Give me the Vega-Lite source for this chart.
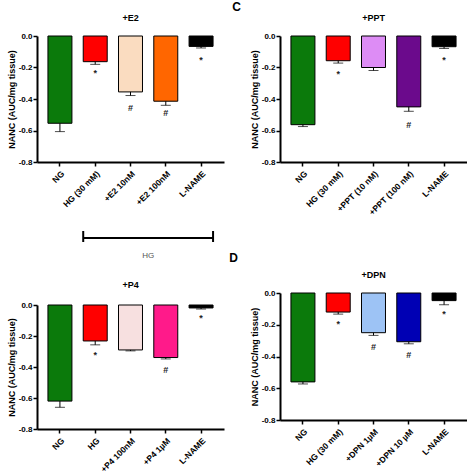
{
  "$schema": "https://vega.github.io/schema/vega-lite/v6.json",
  "padding": {"left": 7, "top": 1, "right": 0, "bottom": 0},
  "background": "white",
  "config": {
    "view": {"stroke": null},
    "font": "Liberation Sans",
    "axis": {"domainColor": "black", "tickColor": "black", "labelColor": "black", "titleColor": "black", "grid": false},
    "axisY": {"labelOverlap": false, "labelFontSize": 8, "labelFontWeight": "bold", "titleFontSize": 9, "titleFontWeight": "bold", "titlePadding": 2, "labelPadding": 1, "domainWidth": 2, "tickSize": 4, "tickWidth": 1.5},
    "axisX": {"labelOverlap": false, "labelAngle": -45, "labelFontSize": 8.5, "labelFontWeight": "bold", "domainWidth": 2, "tickSize": 4, "tickWidth": 1.5, "labelPadding": 3},
    "title": {"font": "Liberation Sans", "fontWeight": "bold", "fontSize": 9, "color": "black", "offset": 9}
  },
  "datasets": {
    "A": [
      {"cond": "NG", "mean": -0.554, "err": -0.607, "sig": "", "sig_y": null},
      {"cond": "HG (30 mM)", "mean": -0.163, "err": -0.18, "sig": "*", "sig_y": -0.235},
      {"cond": "+E2 10nM", "mean": -0.355, "err": -0.378, "sig": "#", "sig_y": -0.46},
      {"cond": "+E2 100nM", "mean": -0.414, "err": -0.44, "sig": "#", "sig_y": -0.49},
      {"cond": "L-NAME", "mean": -0.066, "err": -0.076, "sig": "*", "sig_y": -0.15}
    ],
    "C": [
      {"cond": "NG", "mean": -0.563, "err": -0.575, "sig": "", "sig_y": null},
      {"cond": "HG (30 mM)", "mean": -0.157, "err": -0.172, "sig": "*", "sig_y": -0.24},
      {"cond": "+PPT (10 nM)", "mean": -0.2, "err": -0.219, "sig": "", "sig_y": null},
      {"cond": "+PPT (100 nM)", "mean": -0.45, "err": -0.478, "sig": "#", "sig_y": -0.563},
      {"cond": "L-NAME", "mean": -0.068, "err": -0.079, "sig": "*", "sig_y": -0.155}
    ],
    "B": [
      {"cond": "NG", "mean": -0.62, "err": -0.66, "sig": "", "sig_y": null},
      {"cond": "HG", "mean": -0.232, "err": -0.257, "sig": "*", "sig_y": -0.32},
      {"cond": "+P4 100nM", "mean": -0.29, "err": -0.296, "sig": "", "sig_y": null},
      {"cond": "+P4 1µM", "mean": -0.339, "err": -0.348, "sig": "#", "sig_y": -0.42},
      {"cond": "L-NAME", "mean": -0.019, "err": -0.026, "sig": "*", "sig_y": -0.085}
    ],
    "D": [
      {"cond": "NG", "mean": -0.56, "err": -0.573, "sig": "", "sig_y": null},
      {"cond": "HG (30 mM)", "mean": -0.12, "err": -0.133, "sig": "*", "sig_y": -0.195},
      {"cond": "+DPN 1µM", "mean": -0.25, "err": -0.267, "sig": "#", "sig_y": -0.343},
      {"cond": "+DPN 10 µM", "mean": -0.307, "err": -0.32, "sig": "#", "sig_y": -0.39},
      {"cond": "L-NAME", "mean": -0.048, "err": -0.074, "sig": "*", "sig_y": -0.13}
    ],
    "bracket": [
      {"start": 0.66, "end": 4.34, "mid": 2.5, "label": "HG", "line_y": 0.733, "cap_low": 0.6, "cap_high": 0.967, "text_y": 0.13}
    ]
  },
  "resolve": {"scale": {"x": "independent", "y": "independent"}},
  "spacing": 5,
  "hconcat": [
    {
      "spacing": 20,
      "title": {"text": " ", "fontSize": 12, "offset": 0},
      "vconcat": [
        {
          "width": 187, "height": 126,
          "title": {"text": "+E2"},
          "data": {"name": "A"},
          "encoding": {"x": {"field": "cond", "type": "nominal", "sort": null, "scale": {"paddingInner": 0.32, "paddingOuter": 0.31}, "axis": {"title": null, "labelOverlap": false}}},
          "layer": [
            {"mark": {"type": "bar", "stroke": "black", "strokeWidth": 1},
             "encoding": {
               "y": {"field": "mean", "type": "quantitative", "scale": {"domain": [-0.8, 0]},
                 "axis": {"title": "NANC (AUC/mg tissue)", "tickCount": 4, "labelOverlap": false, "labelExpr": "replace(format(datum.value, '.1f'), '−', '-')"}},
               "color": {"field": "cond", "type": "nominal", "legend": null,
                 "scale": {"domain": ["NG", "HG (30 mM)", "HG", "+E2 10nM", "+E2 100nM", "+PPT (10 nM)", "+PPT (100 nM)", "+P4 100nM", "+P4 1µM", "+DPN 1µM", "+DPN 10 µM", "L-NAME"],
                   "range": ["#0b7a0b", "#ff0000", "#ff0000", "#fadcc0", "#ff6600", "#dd8cf5", "#6b0a8c", "#f7e0e0", "#ff1a8a", "#9dc3f5", "#0000b4", "#000000"]}}}},
            {"mark": {"type": "rule", "strokeWidth": 1, "color": "black"}, "encoding": {"y": {"field": "mean", "type": "quantitative"}, "y2": {"field": "err"}}},
            {"mark": {"type": "tick", "thickness": 1, "size": 10, "color": "black"}, "encoding": {"y": {"field": "err", "type": "quantitative"}}},
            {"transform": [{"filter": "datum.sig != ''"}], "mark": {"type": "text", "fontSize": 9, "fontWeight": "bold", "color": "#222"}, "encoding": {"y": {"field": "sig_y", "type": "quantitative"}, "text": {"field": "sig"}}},
            {"mark": {"type": "rule", "strokeWidth": 1.5, "color": "black"}, "encoding": {"y": {"datum": 0}}}
          ]
        },
        {
          "width": 187, "height": 30,
          "data": {"name": "bracket"},
          "encoding": {},
          "layer": [
            {"mark": {"type": "rule", "strokeWidth": 2, "color": "black"},
             "encoding": {"x": {"field": "start", "type": "quantitative", "scale": {"domain": [-0.65, 4.65], "nice": false, "zero": false}, "axis": null},
               "x2": {"field": "end"}, "y": {"field": "line_y", "type": "quantitative", "scale": {"domain": [0, 1]}, "axis": null}}},
            {"mark": {"type": "rule", "strokeWidth": 2, "color": "black"},
             "encoding": {"x": {"field": "start", "type": "quantitative"}, "y": {"field": "cap_low", "type": "quantitative"}, "y2": {"field": "cap_high"}}},
            {"mark": {"type": "rule", "strokeWidth": 2, "color": "black"},
             "encoding": {"x": {"field": "end", "type": "quantitative"}, "y": {"field": "cap_low", "type": "quantitative"}, "y2": {"field": "cap_high"}}},
            {"mark": {"type": "text", "fontSize": 8, "color": "#555555"},
             "encoding": {"x": {"field": "mid", "type": "quantitative"}, "y": {"field": "text_y", "type": "quantitative"}, "text": {"field": "label"}}}
          ]
        },
        {
          "width": 187, "height": 124,
          "title": {"text": "+P4", "offset": 11},
          "data": {"name": "B"},
          "encoding": {"x": {"field": "cond", "type": "nominal", "sort": null, "scale": {"paddingInner": 0.32, "paddingOuter": 0.31}, "axis": {"title": null, "labelOverlap": false}}},
          "layer": [
            {"mark": {"type": "bar", "stroke": "black", "strokeWidth": 1},
             "encoding": {
               "y": {"field": "mean", "type": "quantitative", "scale": {"domain": [-0.8, 0]},
                 "axis": {"title": "NANC (AUC/mg tissue)", "tickCount": 4, "labelOverlap": false, "labelExpr": "replace(format(datum.value, '.1f'), '−', '-')"}},
               "color": {"field": "cond", "type": "nominal", "legend": null,
                 "scale": {"domain": ["NG", "HG (30 mM)", "HG", "+E2 10nM", "+E2 100nM", "+PPT (10 nM)", "+PPT (100 nM)", "+P4 100nM", "+P4 1µM", "+DPN 1µM", "+DPN 10 µM", "L-NAME"],
                   "range": ["#0b7a0b", "#ff0000", "#ff0000", "#fadcc0", "#ff6600", "#dd8cf5", "#6b0a8c", "#f7e0e0", "#ff1a8a", "#9dc3f5", "#0000b4", "#000000"]}}}},
            {"mark": {"type": "rule", "strokeWidth": 1, "color": "black"}, "encoding": {"y": {"field": "mean", "type": "quantitative"}, "y2": {"field": "err"}}},
            {"mark": {"type": "tick", "thickness": 1, "size": 10, "color": "black"}, "encoding": {"y": {"field": "err", "type": "quantitative"}}},
            {"transform": [{"filter": "datum.sig != ''"}], "mark": {"type": "text", "fontSize": 9, "fontWeight": "bold", "color": "#222"}, "encoding": {"y": {"field": "sig_y", "type": "quantitative"}, "text": {"field": "sig"}}},
            {"mark": {"type": "rule", "strokeWidth": 1.5, "color": "black"}, "encoding": {"y": {"datum": 0}}}
          ]
        }
      ]
    },
    {
      "spacing": 35,
      "vconcat": [
        {
          "title": {"text": "C", "anchor": "start", "fontSize": 12, "fontWeight": "bold", "offset": 0, "dx": -18},
          "vconcat": [
            {
              "width": 187, "height": 126,
              "title": {"text": "+PPT"},
              "data": {"name": "C"},
              "encoding": {"x": {"field": "cond", "type": "nominal", "sort": null, "scale": {"paddingInner": 0.32, "paddingOuter": 0.31}, "axis": {"title": null, "labelOverlap": false}}},
              "layer": [
                {"mark": {"type": "bar", "stroke": "black", "strokeWidth": 1},
                 "encoding": {
                   "y": {"field": "mean", "type": "quantitative", "scale": {"domain": [-0.8, 0]},
                     "axis": {"title": "NANC (AUC/mg tissue)", "tickCount": 4, "labelOverlap": false, "labelExpr": "replace(format(datum.value, '.1f'), '−', '-')"}},
                   "color": {"field": "cond", "type": "nominal", "legend": null,
                     "scale": {"domain": ["NG", "HG (30 mM)", "HG", "+E2 10nM", "+E2 100nM", "+PPT (10 nM)", "+PPT (100 nM)", "+P4 100nM", "+P4 1µM", "+DPN 1µM", "+DPN 10 µM", "L-NAME"],
                       "range": ["#0b7a0b", "#ff0000", "#ff0000", "#fadcc0", "#ff6600", "#dd8cf5", "#6b0a8c", "#f7e0e0", "#ff1a8a", "#9dc3f5", "#0000b4", "#000000"]}}}},
                {"mark": {"type": "rule", "strokeWidth": 1, "color": "black"}, "encoding": {"y": {"field": "mean", "type": "quantitative"}, "y2": {"field": "err"}}},
                {"mark": {"type": "tick", "thickness": 1, "size": 10, "color": "black"}, "encoding": {"y": {"field": "err", "type": "quantitative"}}},
                {"transform": [{"filter": "datum.sig != ''"}], "mark": {"type": "text", "fontSize": 9, "fontWeight": "bold", "color": "#222"}, "encoding": {"y": {"field": "sig_y", "type": "quantitative"}, "text": {"field": "sig"}}},
                {"mark": {"type": "rule", "strokeWidth": 1.5, "color": "black"}, "encoding": {"y": {"datum": 0}}}
              ]
            }
          ]
        },
        {
          "title": {"text": "D", "anchor": "start", "fontSize": 12, "fontWeight": "bold", "offset": 6, "dx": -21},
          "vconcat": [
            {
              "width": 187, "height": 127,
              "title": {"text": "+DPN"},
              "data": {"name": "D"},
              "encoding": {"x": {"field": "cond", "type": "nominal", "sort": null, "scale": {"paddingInner": 0.32, "paddingOuter": 0.31}, "axis": {"title": null, "labelOverlap": false}}},
              "layer": [
                {"mark": {"type": "bar", "stroke": "black", "strokeWidth": 1},
                 "encoding": {
                   "y": {"field": "mean", "type": "quantitative", "scale": {"domain": [-0.8, 0]},
                     "axis": {"title": "NANC (AUC/mg tissue)", "tickCount": 4, "labelOverlap": false, "labelExpr": "replace(format(datum.value, '.1f'), '−', '-')"}},
                   "color": {"field": "cond", "type": "nominal", "legend": null,
                     "scale": {"domain": ["NG", "HG (30 mM)", "HG", "+E2 10nM", "+E2 100nM", "+PPT (10 nM)", "+PPT (100 nM)", "+P4 100nM", "+P4 1µM", "+DPN 1µM", "+DPN 10 µM", "L-NAME"],
                       "range": ["#0b7a0b", "#ff0000", "#ff0000", "#fadcc0", "#ff6600", "#dd8cf5", "#6b0a8c", "#f7e0e0", "#ff1a8a", "#9dc3f5", "#0000b4", "#000000"]}}}},
                {"mark": {"type": "rule", "strokeWidth": 1, "color": "black"}, "encoding": {"y": {"field": "mean", "type": "quantitative"}, "y2": {"field": "err"}}},
                {"mark": {"type": "tick", "thickness": 1, "size": 10, "color": "black"}, "encoding": {"y": {"field": "err", "type": "quantitative"}}},
                {"transform": [{"filter": "datum.sig != ''"}], "mark": {"type": "text", "fontSize": 9, "fontWeight": "bold", "color": "#222"}, "encoding": {"y": {"field": "sig_y", "type": "quantitative"}, "text": {"field": "sig"}}},
                {"mark": {"type": "rule", "strokeWidth": 1.5, "color": "black"}, "encoding": {"y": {"datum": 0}}}
              ]
            }
          ]
        }
      ]
    }
  ]
}
